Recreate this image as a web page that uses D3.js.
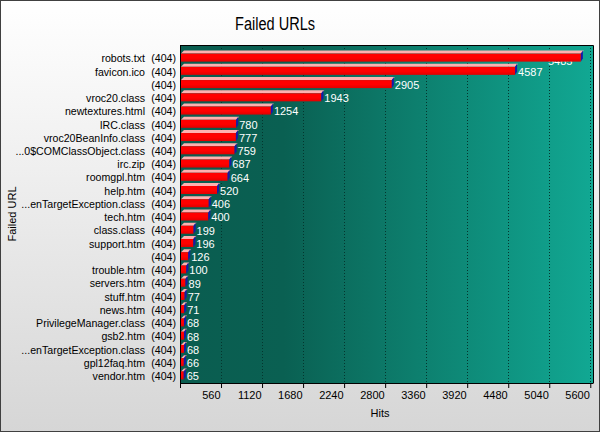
<!DOCTYPE html>
<html>
<head>
<meta charset="utf-8">
<script src="https://cdn.jsdelivr.net/npm/d3@7"></script>
<style>
  body { margin: 0; padding: 0; background: #fff; }
  svg { display: block; }
  text { font-family: "Liberation Sans", Arial, sans-serif; }
</style>
</head>
<body>
<div id="chartcontainer"></div>
<script>
let w = 600;
let h = 432;

// data
let urls = ["robots.txt", "favicon.ico", "", "vroc20.class", "newtextures.html",
  "IRC.class", "vroc20BeanInfo.class", "...0$COMClassObject.class", "irc.zip", "roomgpl.htm",
  "help.htm", "...enTargetException.class", "tech.htm", "class.class", "support.htm",
  "", "trouble.htm", "servers.htm", "stuff.htm", "news.htm",
  "PrivilegeManager.class", "gsb2.htm", "...enTargetException.class", "gpl12faq.htm", "vendor.htm"];
let status = ["(404)", "(404)", "(404)", "(404)", "(404)", "(404)", "(404)", "(404)", "(404)", "(404)",
  "(404)", "(404)", "(404)", "(404)", "(404)", "(404)", "(404)", "(404)", "(404)", "(404)",
  "(404)", "(404)", "(404)", "(404)", "(404)"];
let hits = [5485, 4587, 2905, 1943, 1254, 780, 777, 759, 687, 664,
  520, 406, 400, 199, 196, 126, 100, 89, 77, 71,
  68, 68, 68, 66, 65];
let xTicks = [560, 1120, 1680, 2240, 2800, 3360, 3920, 4480, 5040, 5600];

let plotLeft = 180, plotRight = 593, plotTop = 45, plotBottom = 383;
let depth = 3;

let svg = d3.select("#chartcontainer")
  .append("svg")
    .attr("width", w)
    .attr("height", h);

let defs = svg.append("defs");
let bgGrad = defs.append("linearGradient").attr("id", "bgGrad")
  .attr("x1", 0).attr("y1", 0).attr("x2", 0).attr("y2", 1);
bgGrad.append("stop").attr("offset", "0%").attr("stop-color", "#ffffff");
bgGrad.append("stop").attr("offset", "100%").attr("stop-color", "#d6d6d6");

let plotGrad = defs.append("linearGradient").attr("id", "plotGrad")
  .attr("x1", 0).attr("y1", 0).attr("x2", 1).attr("y2", 0);
plotGrad.append("stop").attr("offset", "0%").attr("stop-color", "#0a5d50");
plotGrad.append("stop").attr("offset", "25%").attr("stop-color", "#0a6052");
plotGrad.append("stop").attr("offset", "100%").attr("stop-color", "#11a893");

let barGrad = defs.append("linearGradient").attr("id", "barGrad")
  .attr("x1", 0).attr("y1", 0).attr("x2", 0).attr("y2", 1);
barGrad.append("stop").attr("offset", "0%").attr("stop-color", "#ff0000");
barGrad.append("stop").attr("offset", "55%").attr("stop-color", "#ff0000");
barGrad.append("stop").attr("offset", "100%").attr("stop-color", "#e00000");

// background + border
svg.append("rect")
  .attr("x", 0.5).attr("y", 0.5)
  .attr("width", w - 1).attr("height", h - 1)
  .attr("fill", "url(#bgGrad)")
  .attr("stroke", "#404040");

let x = d3.scaleLinear()
  .domain([0, 5637])
  .range([plotLeft, plotRight]);

let y = d3.scaleBand()
  .domain(d3.range(urls.length))
  .range([52, 383]);

// plot area
svg.append("rect")
  .attr("x", plotLeft).attr("y", plotTop)
  .attr("width", plotRight - plotLeft).attr("height", plotBottom - plotTop)
  .attr("fill", "url(#plotGrad)");

// grid lines
svg.append("g")
  .selectAll("line")
  .data(xTicks)
  .join("line")
  .attr("x1", d => Math.round(x(d)) + 0.5)
  .attr("x2", d => Math.round(x(d)) + 0.5)
  .attr("y1", plotTop)
  .attr("y2", plotBottom)
  .attr("stroke", "#04362e")
  .attr("stroke-dasharray", "1,2");

// frame top / right
svg.append("path")
  .attr("d", `M${plotLeft},${plotTop + 0.5}H${plotRight + 0.5}V${plotBottom}`)
  .attr("fill", "none")
  .attr("stroke", "#000");

// x axis
let xAxis = svg.append("g")
  .attr("transform", `translate(0,${plotBottom})`)
  .call(d3.axisBottom(x).tickValues(xTicks).tickFormat(d3.format("d"))
    .tickSize(5).tickPadding(3).tickSizeOuter(0));
xAxis.select(".domain").attr("stroke", "#000");
xAxis.selectAll("line").attr("stroke", "#000");
xAxis.selectAll("text")
  .attr("font-size", 11)
  .attr("font-family", "Liberation Sans, Arial, sans-serif")
  .attr("text-anchor", "end")
  .attr("dx", -1)
  .attr("fill", "#000");

// y axis line
svg.append("line")
  .attr("x1", plotLeft + 0.5).attr("x2", plotLeft + 0.5)
  .attr("y1", plotTop).attr("y2", plotBottom + 5)
  .attr("stroke", "#000");

// category labels
let cat = svg.append("g");
cat.selectAll("text.name")
  .data(urls)
  .join("text")
  .attr("class", "name")
  .attr("x", 145)
  .attr("y", (d, i) => y(i) + y.bandwidth() / 2)
  .attr("dy", "0.35em")
  .attr("text-anchor", "end")
  .attr("font-size", 10.6)
  .text(d => d);
cat.selectAll("text.status")
  .data(status)
  .join("text")
  .attr("class", "status")
  .attr("x", 176)
  .attr("y", (d, i) => y(i) + y.bandwidth() / 2)
  .attr("dy", "0.35em")
  .attr("text-anchor", "end")
  .attr("font-size", 10.6)
  .text(d => d);

// value labels (drawn under the bars)
svg.append("g")
  .selectAll("text")
  .data(hits)
  .join("text")
  .attr("x", d => Math.min(x(d) + 2, plotRight - 45))
  .attr("y", (d, i) => y(i) + y.bandwidth() / 2 + (x(d) + 40 > plotRight ? 3 : 0))
  .attr("dy", "0.35em")
  .attr("font-size", 11)
  .attr("fill", "#fff")
  .text(d => d);

// 3d bars
let bars = svg.append("g")
  .selectAll("g")
  .data(hits)
  .join("g");

bars.each(function (d, i) {
  let g = d3.select(this);
  let c = y(i) + y.bandwidth() / 2;
  let x0 = plotLeft + 1;
  let x1 = x(d) - 1;
  let top = c - 5, bot = c + 3;
  g.append("path")
    .attr("d", `M${x0},${top}L${x0 + depth},${top - depth}L${x1 + depth},${top - depth}L${x1},${top}Z`)
    .attr("fill", "#ffb0b0");
  g.append("rect")
    .attr("x", x0).attr("y", top)
    .attr("width", x1 - x0).attr("height", bot - top)
    .attr("fill", "url(#barGrad)");
  g.append("path")
    .attr("d", `M${x1},${top}L${x1 + 2},${top - depth}L${x1 + 2},${bot - depth}L${x1},${bot}Z`)
    .attr("fill", "#1818a8");
});

// titles
svg.append("text")
  .attr("x", 275).attr("y", 30)
  .attr("text-anchor", "middle")
  .attr("font-size", 18)
  .attr("textLength", 80)
  .attr("lengthAdjust", "spacingAndGlyphs")
  .text("Failed URLs");

svg.append("text")
  .attr("x", 380).attr("y", 417)
  .attr("text-anchor", "middle")
  .attr("font-size", 11)
  .text("Hits");

svg.append("text")
  .attr("transform", `translate(16,${(plotTop + plotBottom) / 2}) rotate(-90)`)
  .attr("text-anchor", "middle")
  .attr("font-size", 11)
  .text("Failed URL");
</script>
</body>
</html>
